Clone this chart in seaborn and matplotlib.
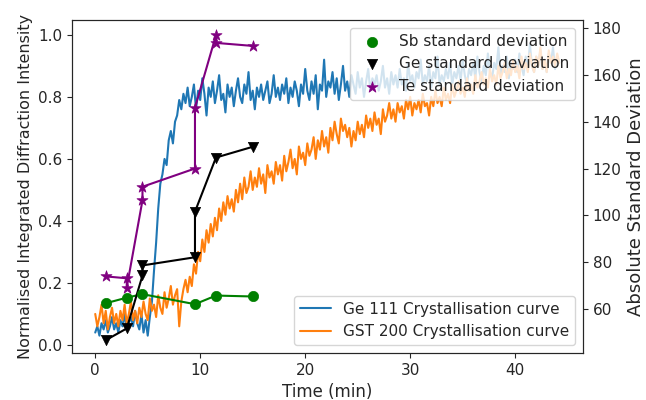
import numpy as np
import pandas as pd
import matplotlib
matplotlib.use("Agg")
import matplotlib.pyplot as plt
import seaborn as sns

# Sampling grid of the in-situ diffraction scans (minutes)
t_start, t_step, n_scans = 0.0, 0.2, 222

# Normalised integrated intensity, Ge (111) reflection
ge111 = [
    0.04, 0.06, 0.03, 0.07, 0.05, 0.08, 0.04, 0.06, 0.09, 0.05, 0.07,
    0.04, 0.08, 0.06, 0.10, 0.05, 0.07, 0.09, 0.06, 0.11, 0.07, 0.05,
    0.10, 0.04, 0.08, 0.03, 0.09,
    0.14, 0.24, 0.33, 0.44, 0.52, 0.55, 0.60, 0.58, 0.66, 0.69,
    0.65, 0.72, 0.74, 0.79, 0.76, 0.81, 0.78, 0.83, 0.77,
    0.80, 0.84, 0.76, 0.82, 0.79, 0.86, 0.81, 0.74, 0.83, 0.80, 0.85,
    0.78, 0.82, 0.87, 0.79, 0.81, 0.75, 0.84, 0.80, 0.83, 0.77, 0.82,
    0.86, 0.80, 0.78, 0.84, 0.81, 0.88, 0.79, 0.82, 0.76, 0.83, 0.80,
    0.84, 0.79, 0.82, 0.85, 0.78, 0.81, 0.87, 0.80, 0.83, 0.79, 0.84,
    0.81, 0.86, 0.78, 0.83, 0.80, 0.85, 0.82, 0.77, 0.84, 0.81, 0.89,
    0.82, 0.79, 0.85, 0.81, 0.87, 0.76, 0.84, 0.82, 0.92, 0.80, 0.85,
    0.83, 0.88, 0.81, 0.86, 0.79, 0.84, 0.90, 0.82, 0.85, 0.80, 0.87,
    0.84, 0.81, 0.88, 0.83, 0.86, 0.80, 0.85, 0.89, 0.82, 0.86, 0.84,
    0.87, 0.82, 0.85, 0.90, 0.83, 0.86, 0.81, 0.88, 0.84, 0.87, 0.83,
    0.89, 0.84, 0.86, 0.82, 0.91, 0.85, 0.87, 0.83, 0.88, 0.86, 0.92,
    0.84, 0.87, 0.85, 0.90, 0.83, 0.88, 0.86, 0.93, 0.84, 0.87, 0.85,
    0.89, 0.86, 0.91, 0.84, 0.88, 0.86, 0.90, 0.85, 0.92, 0.87, 0.84,
    0.89, 0.87, 0.91, 0.86, 0.93, 0.88, 0.85, 0.90, 0.87, 0.94, 0.88,
    0.86, 0.91, 0.89, 0.96, 0.87, 0.90, 0.88, 0.93, 0.86, 0.91, 0.89,
    0.92, 0.88, 0.94, 0.90, 0.87, 0.93, 0.89, 0.97, 0.90, 0.88, 0.93,
    0.90, 0.95, 0.89, 0.92, 0.88, 0.94, 0.91, 0.96, 0.89, 0.93, 0.91,
]

# Normalised integrated intensity, GST (200) reflection
gst200 = [
    0.10, 0.06, 0.09, 0.13, 0.07, 0.11, 0.05, 0.09, 0.12, 0.07, 0.10,
    0.06, 0.11, 0.08, 0.13, 0.07, 0.10, 0.14, 0.08, 0.11, 0.07, 0.12,
    0.09, 0.14, 0.10, 0.08, 0.15, 0.11, 0.13, 0.09, 0.16, 0.12, 0.10,
    0.17, 0.12, 0.15, 0.19, 0.13, 0.16, 0.18, 0.06, 0.14, 0.18, 0.21,
    0.17, 0.22, 0.19, 0.26, 0.23, 0.30, 0.27, 0.34, 0.30, 0.37, 0.33,
    0.39, 0.35, 0.41, 0.37, 0.44, 0.40, 0.46, 0.42, 0.48, 0.44, 0.47,
    0.43, 0.50, 0.46, 0.52, 0.47, 0.54, 0.49, 0.51, 0.56, 0.50, 0.54,
    0.51, 0.57, 0.52, 0.55, 0.49, 0.58, 0.54, 0.56, 0.52, 0.59, 0.55,
    0.58, 0.53, 0.61, 0.56, 0.59, 0.63, 0.57, 0.60, 0.55, 0.64, 0.60,
    0.62, 0.58, 0.65, 0.61, 0.63, 0.67, 0.60, 0.66, 0.63, 0.69, 0.64,
    0.67, 0.62, 0.70, 0.66, 0.72, 0.68, 0.65, 0.73, 0.69, 0.71, 0.67,
    0.70, 0.64, 0.69, 0.66, 0.72, 0.68, 0.71, 0.67, 0.74, 0.70, 0.73,
    0.69, 0.75, 0.71, 0.73, 0.68, 0.76, 0.72, 0.74, 0.78, 0.73, 0.76,
    0.72, 0.78, 0.75, 0.77, 0.73, 0.79, 0.76, 0.80, 0.74, 0.78, 0.76,
    0.79, 0.75, 0.81, 0.77, 0.78, 0.74, 0.80, 0.77, 0.82, 0.78, 0.80,
    0.77, 0.83, 0.79, 0.81, 0.78, 0.84, 0.80, 0.82, 0.85, 0.81, 0.83,
    0.80, 0.86, 0.82, 0.84, 0.81, 0.87, 0.83, 0.85, 0.88, 0.84, 0.86,
    0.83, 0.89, 0.85, 0.87, 0.84, 0.90, 0.86, 0.88, 0.91, 0.86, 0.89,
    0.87, 0.92, 0.88, 0.90, 0.86, 0.93, 0.89, 0.91, 0.88, 0.94, 0.90,
    0.88, 0.93, 0.90, 0.96, 0.89, 0.92, 0.88, 0.95, 0.91, 0.93, 0.90,
    0.94, 0.91,
]

# Absolute standard deviation of the elemental maps
sb_time = [1.0, 3.0, 4.5, 9.5, 11.5, 15.0]
sb_std = [62.3, 64.7, 66.2, 61.9, 65.6, 65.2]

ge_time = [1.0, 3.0, 4.5, 4.5, 9.5, 9.5, 11.5, 15.0]
ge_std = [46.5, 51.5, 74.2, 78.5, 82.0, 101.5, 124.7, 129.3]

te_time = [1.0, 3.0, 3.0, 4.5, 4.5, 9.5, 9.5, 11.5, 11.5, 15.0]
te_std = [73.8, 73.0, 69.0, 106.4, 112.2, 120.0, 146.0, 177.1, 173.8, 172.5]

time = t_start + t_step * np.arange(n_scans)
curves = pd.DataFrame({"time": time, "ge111": ge111, "gst200": gst200})

sns.set_style("ticks")
plt.rcParams["font.family"] = ["DejaVu Sans"]

fig = plt.figure(figsize=(6.46, 4.0), dpi=100)
ax = fig.add_axes([0.1115, 0.1175, 0.791, 0.8325])

sns.lineplot(data=curves, x="time", y="ge111", ax=ax, color="#1f77b4",
             linewidth=1.5, label="Ge 111 Crystallisation curve")
sns.lineplot(data=curves, x="time", y="gst200", ax=ax, color="#ff7f0e",
             linewidth=1.5, label="GST 200 Crystallisation curve")
ax.set_xlim(-2.21, 46.46)
ax.set_ylim(-0.026, 1.048)
ax.set_xlabel("Time (min)", fontsize=12)
ax.set_ylabel("Normalised Integrated Diffraction Intensity", fontsize=11.5)
ax.tick_params(labelsize=11)
ax.legend(loc="lower right", fontsize=11)

ax2 = ax.twinx()
series = [
    (sb_time, sb_std, "green", "o", "Sb standard deviation"),
    (ge_time, ge_std, "black", "v", "Ge standard deviation"),
    (te_time, te_std, "purple", "*", "Te standard deviation"),
]
for tx, sy, col, mk, lab in series:
    sns.lineplot(x=tx, y=sy, ax=ax2, color=col, sort=False, estimator=None,
                 linewidth=1.5, legend=False)
    sns.scatterplot(x=tx, y=sy, ax=ax2, color=col, marker=mk,
                    s=70 if mk == "*" else 55, edgecolor=col, linewidth=0.5,
                    label=lab, zorder=3)
ax2.set_ylim(41.0, 183.6)
ax2.set_ylabel("Absolute Standard Deviation", fontsize=13)
ax2.tick_params(labelsize=11)
ax2.legend(loc="upper right", fontsize=11)

fig.savefig("out.png", dpi=100)
